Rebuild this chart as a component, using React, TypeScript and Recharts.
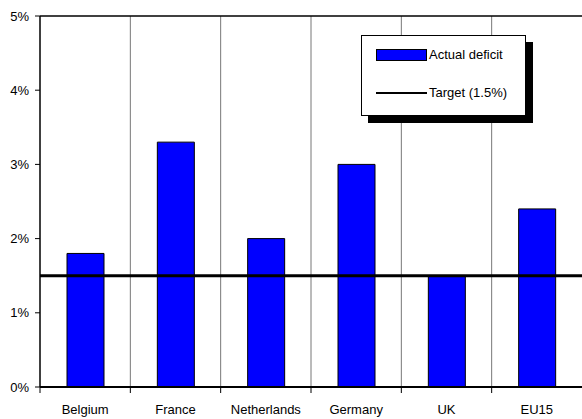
import { BarChart, Bar, XAxis, YAxis, CartesianGrid, ReferenceLine, Legend } from "recharts"

const countries = ["Belgium", "France", "Netherlands", "Germany", "UK", "EU15"]
const actualDeficit = [1.8, 3.3, 2.0, 3.0, 1.5, 2.4]
const targetDeficit = 1.5
const yTicks = [0, 1, 2, 3, 4, 5]

const seriesName = "Actual deficit"
const targetName = "Target (1.5%)"

const data = countries.map((name, i) => ({ name, deficit: actualDeficit[i] }))

const font = "'Liberation Sans', Arial, sans-serif"
const chartWidth = 582
const chartHeight = 419
const yAxisWidth = 40
const labelGap = 18
const halfBand = (chartWidth - yAxisWidth) / countries.length / 2

// category label centred in its band, with a tick mark on the band's left edge
function CategoryTick(props: any) {
  const { x, y, payload } = props
  const axisY = y - labelGap
  const edge = x - halfBand
  return (
    <g>
      <line x1={edge} x2={edge} y1={axisY} y2={axisY + 6} stroke="#000" strokeWidth={1} />
      <text x={x} y={y} dy="0.71em" textAnchor="middle" fontSize={13} fill="#000" fontFamily={font}>
        {payload.value}
      </text>
    </g>
  )
}

function DeficitLegend() {
  const row = { position: "absolute" as const, left: 14, height: 16, lineHeight: "16px", display: "flex", alignItems: "center", whiteSpace: "nowrap" as const }
  return (
    <div
      style={{
        boxSizing: "border-box",
        width: 165,
        height: 81,
        border: "1px solid #000",
        background: "#fff",
        boxShadow: "7px 7px 0 #000",
        position: "relative",
        fontFamily: font,
        fontSize: 13,
        color: "#000",
      }}
    >
      <div style={{ ...row, top: 11 }}>
        <span style={{ boxSizing: "border-box", width: 51, height: 12, background: "#0000ff", border: "1px solid #000", display: "inline-block" }} />
        <span style={{ marginLeft: 2 }}>{seriesName}</span>
      </div>
      <div style={{ ...row, top: 49 }}>
        <span style={{ width: 51, height: 2, background: "#000", display: "inline-block" }} />
        <span style={{ marginLeft: 2 }}>{targetName}</span>
      </div>
    </div>
  )
}

export default function App() {
  return (
    <div style={{ position: "absolute", left: 0, top: 0, background: "#fff" }}>
      <BarChart width={chartWidth} height={chartHeight} data={data} margin={{ top: 16, right: 0, left: 0, bottom: 0 }}>
        <CartesianGrid
          horizontal={false}
          stroke="#777"
          strokeWidth={1}
          verticalCoordinatesGenerator={({ offset }: any) =>
            countries.slice(1).map((_, i) => offset.left + (offset.width * (i + 1)) / countries.length)
          }
        />
        <XAxis
          dataKey="name"
          axisLine={{ stroke: "#000", strokeWidth: 2 }}
          tickLine={false}
          tickSize={0}
          tickMargin={labelGap}
          height={chartHeight - 16 - 371}
          interval={0}
          tick={<CategoryTick />}
        />
        <YAxis
          domain={[0, 5]}
          ticks={yTicks}
          width={yAxisWidth}
          tickSize={5}
          tickMargin={6}
          tickFormatter={(v) => `${v}%`}
          axisLine={{ stroke: "#000", strokeWidth: 1.5 }}
          tickLine={{ stroke: "#000", strokeWidth: 1 }}
          tick={{ fontSize: 13, fill: "#000", fontFamily: font }}
        />
        <Legend
          layout="vertical"
          align="center"
          verticalAlign="middle"
          content={() => <DeficitLegend />}
          wrapperStyle={{ left: 361, top: 35, width: 172, height: 88 }}
        />
        <Bar dataKey="deficit" name={seriesName} fill="#0000ff" stroke="#000" strokeWidth={1} barSize={37} isAnimationActive={false} />
        <ReferenceLine y={5} stroke="#000" strokeWidth={1.5} />
        <ReferenceLine y={targetDeficit} stroke="#000" strokeWidth={3} />
      </BarChart>
    </div>
  )
}
